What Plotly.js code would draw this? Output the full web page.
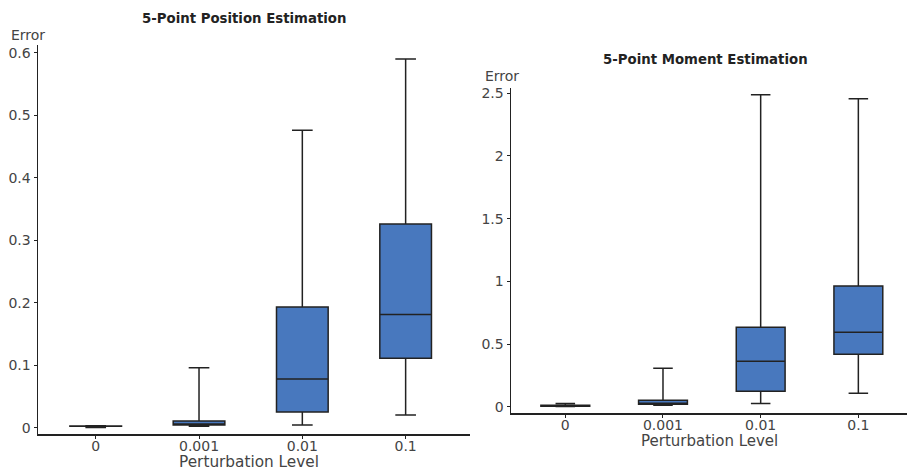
<!DOCTYPE html>
<html>
<head>
<meta charset="utf-8">
<script src="https://cdn.plot.ly/plotly-3.0.1.min.js"></script>
<style>html,body{margin:0;padding:0;background:#fff;}#chart{width:907px;height:470px;}</style>
</head>
<body>
<div id="chart"></div>
<script>
const levels = ["0", "0.001", "0.01", "0.1"];

// 5-Point Position Estimation
const posLower  = [0.0002, 0.0025, 0.0043, 0.0203];
const posQ1     = [0.0025, 0.0043, 0.025, 0.111];
const posMedian = [0.0026, 0.0055, 0.078, 0.181];
const posQ3     = [0.0028, 0.0107, 0.193, 0.326];
const posUpper  = [0.0030, 0.096, 0.476, 0.590];

// 5-Point Moment Estimation
const momLower  = [0.003, 0.014, 0.027, 0.109];
const momQ1     = [0.006, 0.022, 0.125, 0.420];
const momMedian = [0.009, 0.030, 0.364, 0.596];
const momQ3     = [0.013, 0.053, 0.636, 0.963];
const momUpper  = [0.028, 0.309, 2.488, 2.456];

const titles = ["5-Point Position Estimation", "5-Point Moment Estimation"];
const xTitle = "Perturbation Level";
const yTitle = "Error";

const fill = "#4878be";
const lineCol = "#222222";
const font = "DejaVu Sans, Verdana, sans-serif";

function boxTrace(lo, q1, med, q3, up, xa, ya) {
  return {
    type: "box", x: levels, lowerfence: lo, q1: q1, median: med, q3: q3, upperfence: up,
    xaxis: xa, yaxis: ya, fillcolor: fill, line: {color: lineCol, width: 1.5},
    width: 0.5, whiskerwidth: 0.4, boxpoints: false, showlegend: false, hoverinfo: "y"
  };
}

const data = [
  boxTrace(posLower, posQ1, posMedian, posQ3, posUpper, "x", "y"),
  boxTrace(momLower, momQ1, momMedian, momQ3, momUpper, "x2", "y2")
];

const axisCommon = {
  showgrid: false, zeroline: false, showline: true, linecolor: lineCol, linewidth: 1.5,
  ticks: "outside", ticklen: 3, tickcolor: lineCol, tickwidth: 1,
  tickfont: {family: font, size: 14, color: "#444"}
};

const W = 907, H = 470;
const layout = {
  width: W, height: H, margin: {l: 0, r: 0, t: 0, b: 0},
  paper_bgcolor: "#fff", plot_bgcolor: "#fff", showlegend: false,
  font: {family: font, color: "#444"},
  xaxis: Object.assign({}, axisCommon, {type: "category", domain: [38 / W, 470 / W], range: [-0.5586, 3.623], anchor: "y", ticklabelstandoff: -4}),
  yaxis: Object.assign({}, axisCommon, {domain: [(H - 434) / H, (H - 45) / H], range: [-0.0101, 0.6123], anchor: "x", tickvals: [0, 0.1, 0.2, 0.3, 0.4, 0.5, 0.6], ticktext: ["0", "0.1", "0.2", "0.3", "0.4", "0.5", "0.6"]}),
  xaxis2: Object.assign({}, axisCommon, {type: "category", domain: [511 / W, 1], range: [-0.556, 3.498], anchor: "y2", ticklabelstandoff: -4}),
  yaxis2: Object.assign({}, axisCommon, {domain: [(H - 413) / H, (H - 88) / H], range: [-0.048, 2.541], anchor: "x2", tickvals: [0, 0.5, 1, 1.5, 2, 2.5], ticktext: ["0", "0.5", "1", "1.5", "2", "2.5"]}),
  annotations: [
    {text: "<b>" + titles[0] + "</b>", x: 243.5 / W, y: (H - 18) / H, xref: "paper", yref: "paper", xanchor: "center", yanchor: "middle", showarrow: false, font: {family: font, size: 13.3, color: "#222"}},
    {text: "<b>" + titles[1] + "</b>", x: 705 / W, y: (H - 60) / H, xref: "paper", yref: "paper", xanchor: "center", yanchor: "middle", showarrow: false, font: {family: font, size: 13.3, color: "#222"}},
    {text: yTitle, x: 9 / W, y: (H - 35) / H, xref: "paper", yref: "paper", xanchor: "left", yanchor: "middle", showarrow: false, font: {family: font, size: 14, color: "#444"}},
    {text: yTitle, x: 483 / W, y: (H - 76) / H, xref: "paper", yref: "paper", xanchor: "left", yanchor: "middle", showarrow: false, font: {family: font, size: 14, color: "#444"}},
    {text: xTitle, x: 248.5 / W, y: (H - 462) / H, xref: "paper", yref: "paper", xanchor: "center", yanchor: "middle", showarrow: false, font: {family: font, size: 15.3, color: "#444"}},
    {text: xTitle, x: 709 / W, y: (H - 441) / H, xref: "paper", yref: "paper", xanchor: "center", yanchor: "middle", showarrow: false, font: {family: font, size: 15, color: "#444"}}
  ]
};

Plotly.newPlot("chart", data, layout, {displayModeBar: false, staticPlot: true});
</script>
</body>
</html>
